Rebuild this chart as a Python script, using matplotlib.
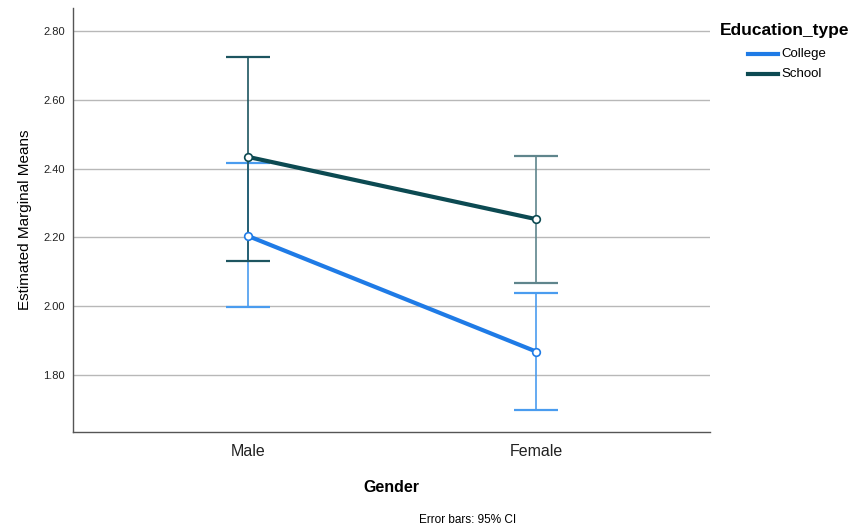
import matplotlib
matplotlib.use("Agg")
import matplotlib.pyplot as plt
from matplotlib.lines import Line2D

plt.rcParams['font.family'] = ['Liberation Sans', 'DejaVu Sans']

genders = ["Male", "Female"]
college_mean = [2.204, 1.868]
college_low = [1.998, 1.698]
college_high = [2.416, 2.037]
school_mean = [2.434, 2.253]
school_low = [2.131, 2.067]
school_high = [2.724, 2.437]
yticks = [1.80, 2.00, 2.20, 2.40, 2.60, 2.80]
series_names = ["College", "School"]

W, H = 857, 531
fig = plt.figure(figsize=(W/100, H/100), dpi=100)
ax = fig.add_axes([73/W, 1-432/H, 637/W, 424/H])

x = list(range(len(genders)))
c_col = "#1f7be6"
s_col = "#0c4a52"
c_err = "#4a9cef"
s_err = ["#1d5560", "#5f858c"]

for i in x:
    ax.errorbar([i], [college_mean[i]],
                yerr=[[college_mean[i]-college_low[i]], [college_high[i]-college_mean[i]]],
                fmt='none', ecolor=c_err, elinewidth=1.2, capsize=15.5, capthick=1.6, zorder=3)
    ax.errorbar([i], [school_mean[i]],
                yerr=[[school_mean[i]-school_low[i]], [school_high[i]-school_mean[i]]],
                fmt='none', ecolor=s_err[i], elinewidth=1.2, capsize=15.5, capthick=1.6, zorder=3)

ax.plot(x, college_mean, color=c_col, lw=3, zorder=4, marker='o', ms=5.5,
        mfc='white', mec=c_col, mew=1.2)
ax.plot(x, school_mean, color=s_col, lw=3, zorder=4, marker='o', ms=5.5,
        mfc='white', mec=s_col, mew=1.2)

ax.set_xlim(-0.608, 1.604)
ax.set_ylim(1.634, 2.867)
ax.set_yticks(yticks)
ax.set_yticklabels([f"{v:.2f}" for v in yticks], fontsize=8)
ax.set_xticks(x)
ax.set_xticklabels(genders, fontsize=11.5)
ax.tick_params(axis='x', length=0, pad=9, colors='#222222')
ax.tick_params(axis='y', length=0, pad=6, colors='#222222')
ax.grid(axis='y', color='#b8b8b8', lw=1)
ax.set_axisbelow(True)
for s in ['top', 'right']:
    ax.spines[s].set_visible(False)
for s in ['left', 'bottom']:
    ax.spines[s].set_color('#555555')
    ax.spines[s].set_linewidth(1)

ax.set_ylabel("Estimated Marginal Means", fontsize=11, labelpad=8)
ax.set_xlabel("Gender", fontsize=11.5, fontweight='bold', labelpad=15)
fig.text(468/W, 1-520/H, "Error bars: 95% CI", ha='center', va='center', fontsize=8.5)

# legend drawn manually on the figure
fig.text(720/W, 1-30/H, "Education_type", ha='left', va='center',
         fontsize=12.5, fontweight='bold')
for k, (name, col) in enumerate(zip(series_names, [c_col, s_col])):
    yy = 1 - (54 + 20*k)/H
    fig.add_artist(Line2D([748/W, 778/W], [yy, yy], color=col, lw=3,
                          transform=fig.transFigure))
    fig.text(781/W, yy, name, ha='left', va='center', fontsize=9.5)

fig.savefig("out.png", dpi=100)
